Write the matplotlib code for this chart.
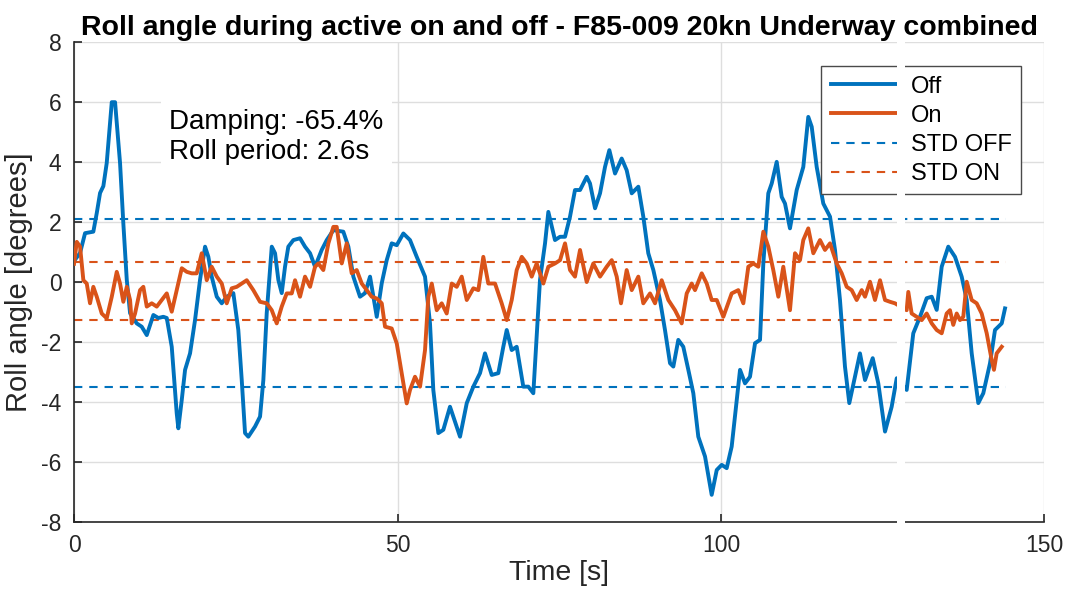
import numpy as np
import matplotlib.pyplot as plt
from matplotlib.patches import Rectangle

plt.rcParams['font.family'] = ['Liberation Sans', 'DejaVu Sans']
plt.rcParams['lines.scale_dashes'] = False
plt.rcParams['axes.unicode_minus'] = False

# roll angle with active system off (time [s], angle [deg])
t_off = [0.0, 0.93, 1.70, 2.98, 3.51, 4.02, 4.53, 5.05, 5.83, 6.34, 7.11, 7.62,
         8.15, 8.66, 9.69, 10.46, 11.24, 12.26, 13.03, 13.80, 14.33, 15.10, 15.87,
         16.12, 16.65, 17.16, 17.93, 18.70, 19.47, 20.25, 20.76, 21.28, 22.06,
         22.83, 23.60, 24.62, 25.39, 25.92, 26.43, 26.94, 27.98, 28.75, 29.26,
         29.78, 30.56, 31.07, 31.58, 32.10, 32.61, 33.12, 33.90, 34.93, 35.70,
         36.48, 37.25, 38.28, 39.06, 40.08, 41.62, 42.40, 43.17, 44.20, 44.98,
         45.75, 46.79, 47.56, 48.33, 49.10, 49.88, 50.90, 51.93, 52.97, 54.25,
         55.02, 55.53, 56.31, 57.08, 58.11, 59.66, 60.70, 61.72, 62.75, 63.52,
         64.56, 65.58, 66.35, 66.88, 67.65, 68.42, 69.44, 70.22, 70.99, 72.02,
         72.80, 73.31, 74.34, 75.12, 75.89, 76.66, 77.43, 78.21, 79.24, 79.75,
         80.53, 81.30, 82.07, 82.74, 83.62, 84.65, 85.42, 86.20, 87.22, 87.99,
         88.76, 89.54, 90.57, 91.34, 92.12, 92.63, 93.40, 94.17, 94.95, 95.72,
         96.49, 97.53, 98.56, 99.34, 100.11, 100.88, 101.65, 102.43, 102.94,
         103.71, 104.48, 105.26, 106.03, 106.54, 107.31, 107.84, 108.61, 109.38,
         109.89, 110.66, 111.70, 112.72, 113.49, 114.02, 114.79, 115.81, 116.85,
         117.62, 118.39, 119.16, 119.83, 120.71, 121.48, 122.26, 123.45, 124.31,
         125.35, 126.38, 127.16, 128.70, 129.72, 130.76, 131.79, 132.57, 133.34,
         134.11, 135.13, 136.17, 137.20, 137.98, 138.75, 139.77, 140.54, 141.58,
         142.35, 143.39, 143.90]
roll_off = [0.70, 0.97, 1.63, 1.68, 2.30, 2.97, 3.20, 3.97, 6.00, 6.00, 3.97, 1.95,
            0.07, -1.04, -1.38, -1.49, -1.77, -1.10, -1.20, -1.16, -1.20, -2.16, -4.38,
            -4.88, -3.93, -2.93, -2.38, -1.27, 0.07, 1.18, 0.84, 0.18, -0.49,
            -0.71, -0.49, -0.37, -1.60, -3.27, -5.04, -5.16, -4.82, -4.49, -3.27,
            -1.04, 1.18, 0.96, 0.07, -0.37, 0.51, 1.18, 1.40, 1.46, 1.18,
            0.96, 0.51, 1.07, 1.40, 1.73, 1.68, 1.18, 0.18, -0.49, -0.37,
            0.18, -1.16, -0.04, 0.73, 1.29, 1.23, 1.62, 1.40, 0.84, 0.18,
            -1.38, -3.60, -5.04, -4.93, -4.16, -5.16, -4.04, -3.49, -3.04, -2.38,
            -3.10, -3.04, -2.16, -1.60, -2.27, -2.16, -3.49, -3.49, -3.71, 0.07,
            1.29, 2.34, 1.40, 1.51, 1.51, 2.18, 3.07, 3.07, 3.51, 3.29,
            2.46, 2.96, 3.84, 4.40, 3.62, 4.12, 3.73, 2.96, 3.18, 2.18,
            0.96, 0.40, -0.60, -1.60, -2.71, -2.82, -1.93, -2.16, -2.93, -3.71,
            -5.16, -5.82, -7.10, -6.27, -6.10, -6.21, -5.49, -3.93, -2.93,
            -3.38, -3.16, -2.04, -1.93, 0.62, 2.96, 3.29, 4.01, 2.84,
            2.62, 1.79, 3.07, 3.84, 5.51, 5.18, 3.84, 2.62, 2.18,
            1.07, -0.60, -2.82, -4.04, -3.16, -2.38, -3.27, -2.54, -3.38,
            -4.99, -4.16, -3.21, -3.60, -1.71, -1.16, -0.54, -0.49, -0.93,
            0.51, 1.18, 0.84, 0.18, -0.60, -2.38, -4.04, -3.71, -2.71,
            -1.60, -1.38, -0.88]

# roll angle with active system on
t_on = [0.0, 0.42, 0.93, 1.44, 1.96, 2.47, 2.98, 3.51, 4.28, 5.05, 5.83, 6.60,
        7.11, 7.62, 8.15, 8.66, 8.92, 9.43, 10.20, 10.71, 11.24, 12.01, 12.78,
        13.55, 14.33, 15.10, 15.87, 16.65, 17.42, 18.19, 18.96, 19.74, 20.51,
        21.28, 22.06, 22.83, 23.60, 24.37, 25.15, 25.92, 26.69, 27.71, 28.75,
        29.78, 30.56, 31.33, 32.10, 32.87, 33.65, 34.16, 34.93, 35.70, 36.48,
        37.25, 37.76, 38.53, 39.31, 40.08, 40.60, 41.38, 42.15, 42.92, 43.69,
        44.47, 45.24, 46.01, 46.79, 47.56, 48.07, 49.10, 49.88, 50.65, 51.42,
        51.93, 52.70, 53.48, 54.25, 54.76, 55.29, 56.06, 56.83, 57.60, 58.38,
        59.15, 59.92, 60.70, 61.72, 62.49, 63.26, 64.03, 65.07, 66.10, 66.88,
        67.65, 68.42, 69.20, 69.97, 70.74, 71.51, 72.54, 73.31, 74.34, 75.12,
        75.89, 76.66, 77.43, 78.21, 79.24, 80.26, 81.30, 82.33, 83.11, 83.88,
        84.54, 85.42, 86.20, 87.22, 87.99, 89.03, 89.80, 90.83, 91.86, 92.89,
        93.92, 94.70, 95.47, 95.98, 97.02, 97.79, 98.56, 99.34, 100.36, 101.65,
        102.67, 103.45, 104.22, 104.99, 105.77, 106.54, 107.31, 108.08, 108.86,
        109.63, 110.66, 111.44, 112.21, 112.72, 113.49, 114.27, 115.30, 116.07,
        116.85, 117.88, 118.66, 119.43, 120.20, 120.97, 121.75, 122.26, 123.03,
        123.80, 124.58, 125.35, 126.12, 126.89, 128.70, 128.95, 129.47, 130.24,
        131.02, 131.79, 132.57, 133.34, 134.11, 134.88, 135.39, 135.90, 136.43,
        136.94, 137.45, 137.98, 138.75, 139.52, 140.29, 141.07, 141.84, 142.19,
        142.61, 143.39]
roll_on = [0.61, 1.34, 1.18, 0.06, -0.05, -0.71, -0.16, -0.49, -1.05, -1.21, -0.49, 0.34,
           -0.05, -0.66, -0.16, -0.60, -1.38, -1.05, -0.27, -0.16, -0.82, -0.71, -0.82,
           -0.60, -0.38, -0.99, -0.27, 0.46, 0.34, 0.29, 0.29, 0.96, 0.06,
           0.51, 0.18, -0.05, -0.71, -0.21, -0.16, -0.05, 0.06, -0.27, -0.66,
           -0.71, -0.94, -1.38, -0.82, -0.38, -0.38, 0.06, -0.49, 0.18, -0.16,
           0.51, 0.62, 0.40, 1.29, 1.84, 1.84, 0.62, 1.29, 0.29, 0.40,
           -0.05, -0.27, -0.49, -0.55, -0.71, -1.49, -1.55, -2.05, -3.05, -4.05,
           -3.60, -3.16, -3.49, -2.27, -0.49, -0.05, -0.94, -0.71, -1.05, -0.05,
           -0.16, 0.18, -0.60, -0.21, -0.27, 0.84, -0.05, -0.05, -0.71, -1.27,
           -0.60, 0.40, 0.84, 0.62, 0.18, 0.62, -0.05, 0.51, 0.62, 0.73,
           1.29, 0.40, 0.18, 1.07, 0.00, 0.62, 0.18, 0.51, 0.73, 0.18,
           -0.71, 0.40, -0.27, 0.18, -0.71, -0.38, -0.71, 0.06, -0.60, -0.94,
           -1.38, -0.38, -0.05, -0.27, 0.29, -0.05, -0.60, -0.60, -1.16, -0.38,
           -0.27, -0.71, 0.51, 0.62, 0.51, 1.68, 1.18, 0.40, -0.49,
           0.51, -0.94, 0.96, 0.73, 1.40, 1.79, 0.96, 1.40, 1.07,
           1.29, 0.62, 0.29, -0.16, -0.27, -0.60, -0.27, -0.49, 0.01,
           -0.60, 0.06, -0.60, -0.66, -0.71, -0.94, -0.33, -1.05, -1.16,
           -1.27, -1.05, -1.38, -1.60, -1.71, -1.05, -0.94, -1.43, -1.05,
           -1.27, -1.16, 0.01, -0.60, -0.71, -1.05, -1.71, -2.60, -2.93,
           -2.38, -2.16]

std_off = [2.11, -3.51]
std_on = [0.68, -1.27]
t_end = 144.1

blue = '#0072BD'
orange = '#D95319'
dark = '#262626'

fig = plt.figure(figsize=(10.67, 5.95), dpi=100)
ax = fig.add_axes([0.0694, 0.123, 0.9095, 0.806])

ax.plot(t_off, roll_off, color=blue, lw=2.8, label='Off', zorder=3)
ax.plot(t_on, roll_on, color=orange, lw=2.8, label='On', zorder=3)
for i, v in enumerate(std_off):
    ax.plot([0, t_end], [v, v], color=blue, lw=1.5, dashes=(6, 5),
            label='STD OFF' if i == 0 else None, zorder=2)
for i, v in enumerate(std_on):
    ax.plot([0, t_end], [v, v], color=orange, lw=1.5, dashes=(6, 5),
            label='STD ON' if i == 0 else None, zorder=2)

ax.set_xlim(0, 150)
ax.set_ylim(-8, 8)
ax.set_xticks([0, 50, 100, 150])
ax.set_yticks(np.arange(-8, 9, 2))
ax.grid(True, color='#dedede', lw=1)
ax.set_axisbelow(True)
for s in ['top', 'right']:
    ax.spines[s].set_visible(False)
for s in ['left', 'bottom']:
    ax.spines[s].set_color(dark)
    ax.spines[s].set_linewidth(1.2)
ax.tick_params(direction='in', length=6, width=1.2, colors=dark,
               labelsize=16.5, pad=9)

ax.set_title('Roll angle during active on and off - F85-009 20kn Underway combined',
             fontsize=20.5, fontweight='bold', pad=5)
ax.set_xlabel('Time [s]', fontsize=20.5, color=dark, labelpad=2)
ax.set_ylabel('Roll angle [degrees]', fontsize=21, color=dark, labelpad=6)

ax.text(0.098, 0.86, 'Damping: -65.4%\nRoll period: 2.6s', transform=ax.transAxes,
        fontsize=20, va='top', ha='left', linespacing=1.2, zorder=4,
        bbox=dict(facecolor='white', edgecolor='none', pad=6))

leg = ax.legend(loc='upper right', bbox_to_anchor=(0.976, 0.95), borderaxespad=0,
                fontsize=17, handlelength=2.85, handletextpad=0.55, borderpad=0.4,
                labelspacing=0.3, fancybox=False, framealpha=1)
leg.get_frame().set_edgecolor('#4a4a4a')
leg.get_frame().set_linewidth(1.0)

# white seam visible in the original picture
fig.patches.append(Rectangle((897 / 1067, 1 - 532 / 595), 8 / 1067, 490 / 595,
                             transform=fig.transFigure, facecolor='white',
                             edgecolor='none', zorder=10))

fig.savefig('out.png', dpi=100)
